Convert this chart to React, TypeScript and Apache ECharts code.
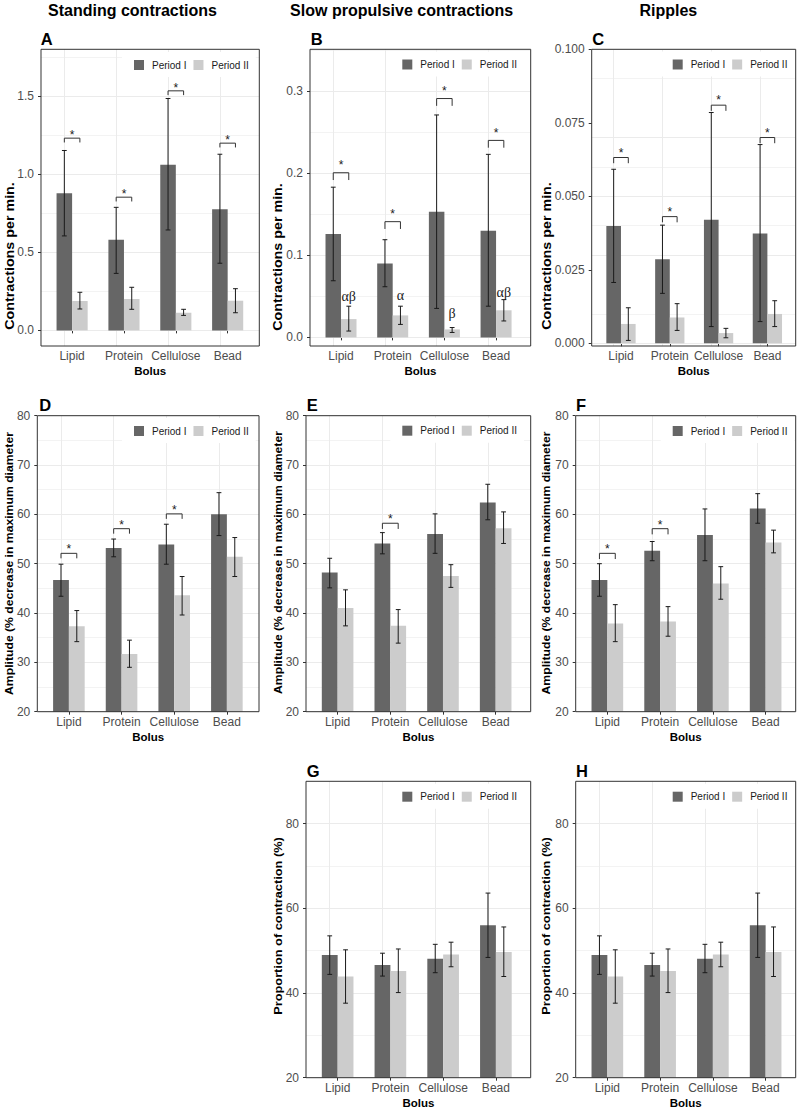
import React, { useEffect, useRef } from 'react';
import * as echarts from 'echarts';

const FONT = 'Liberation Sans, Arial, sans-serif';
const categories = ['Lipid', 'Protein', 'Cellulose', 'Bead'];
const periodNames = ['Period I', 'Period II'];
const columnTitles = ['Standing contractions', 'Slow propulsive contractions', 'Ripples'];

// A - standing contractions, frequency
const aPeriod1 = [0.878, 0.58, 1.06, 0.776];
const aPeriod1Low = [0.605, 0.365, 0.643, 0.43];
const aPeriod1High = [1.152, 0.788, 1.485, 1.128];
const aPeriod2 = [0.188, 0.201, 0.113, 0.19];
const aPeriod2Low = [0.137, 0.135, 0.096, 0.113];
const aPeriod2High = [0.244, 0.276, 0.135, 0.267];
const aSignif = [1.231, 0.853, 1.534, 1.199];
const aTicks = [0, 0.5, 1, 1.5];
const aTickLabels = ['0.0', '0.5', '1.0', '1.5'];
const aMinor = [0.25, 0.75, 1.25, 1.75];

// B - slow propulsive contractions, frequency
const bPeriod1 = [0.126, 0.09, 0.153, 0.13];
const bPeriod1Low = [0.069, 0.0617, 0.0353, 0.038];
const bPeriod1High = [0.183, 0.119, 0.271, 0.223];
const bPeriod2 = [0.0223, 0.0268, 0.0097, 0.033];
const bPeriod2Low = [0.0077, 0.0158, 0.006, 0.02];
const bPeriod2High = [0.038, 0.038, 0.012, 0.046];
const bSignif = [0.2006, 0.141, 0.291, 0.24];
const bLetters = ['αβ', 'α', 'β', 'αβ'];
const bLetterY = [0.0495, 0.051, 0.0288, 0.0548];
const bTicks = [0, 0.1, 0.2, 0.3];
const bTickLabels = ['0.0', '0.1', '0.2', '0.3'];
const bMinor = [0.05, 0.15, 0.25, 0.35];

// C - ripples, frequency
const cPeriod1 = [0.0399, 0.0286, 0.042, 0.0374];
const cPeriod1Low = [0.0207, 0.017, 0.0057, 0.0074];
const cPeriod1High = [0.0592, 0.0402, 0.0785, 0.0676];
const cPeriod2 = [0.0066, 0.0088, 0.0035, 0.01];
const cPeriod2Low = [0.001, 0.0044, 0.0019, 0.0057];
const cPeriod2High = [0.0121, 0.0135, 0.0051, 0.0145];
const cSignif = [0.0632, 0.0431, 0.081, 0.07];
const cTicks = [0, 0.025, 0.05, 0.075, 0.1];
const cTickLabels = ['0.000', '0.025', '0.050', '0.075', '0.100'];
const cMinor = [0.0125, 0.0375, 0.0625, 0.0875];

// D - standing contractions, amplitude
const dPeriod1 = [46.7, 53.2, 53.9, 60.0];
const dPeriod1Low = [43.4, 51.4, 49.9, 55.7];
const dPeriod1High = [49.9, 55.0, 58.0, 64.4];
const dPeriod2 = [37.3, 31.7, 43.6, 51.4];
const dPeriod2Low = [34.2, 29.0, 39.6, 47.4];
const dPeriod2High = [40.5, 34.5, 47.4, 55.3];
const dSignif = [52.1, 57.1, 60.1, null];

// E - slow propulsive contractions, amplitude
const ePeriod1 = [48.2, 54.1, 56.0, 62.4];
const ePeriod1Low = [45.1, 52.0, 52.1, 58.9];
const ePeriod1High = [51.1, 56.3, 60.1, 66.1];
const ePeriod2 = [41.0, 37.4, 47.5, 57.2];
const ePeriod2Low = [37.4, 33.9, 45.2, 54.1];
const ePeriod2High = [44.7, 40.7, 49.8, 60.5];
const eSignif = [null, 58.2, null, null];

// F - ripples, amplitude
const fPeriod1 = [46.7, 52.6, 55.8, 61.2];
const fPeriod1Low = [43.4, 50.6, 50.6, 58.2];
const fPeriod1High = [50.0, 54.5, 61.1, 64.2];
const fPeriod2 = [37.9, 38.3, 46.0, 54.3];
const fPeriod2Low = [34.2, 35.3, 42.8, 52.2];
const fPeriod2High = [41.7, 41.3, 49.4, 56.8];
const fSignif = [52.1, 57.1, null, null];

const ampTicks = [20, 30, 40, 50, 60, 70, 80];
const ampTickLabels = ['20', '30', '40', '50', '60', '70', '80'];
const ampMinor = [25, 35, 45, 55, 65, 75];

// G - slow propulsive contractions, proportion
const gPeriod1 = [49.0, 46.6, 48.1, 56.0];
const gPeriod1Low = [44.4, 44.0, 44.8, 48.4];
const gPeriod1High = [53.5, 49.4, 51.5, 63.6];
const gPeriod2 = [43.9, 45.2, 49.1, 49.7];
const gPeriod2Low = [37.6, 40.1, 46.2, 43.9];
const gPeriod2High = [50.2, 50.4, 52.0, 55.6];

// H - ripples, proportion
const hPeriod1 = [49.0, 46.6, 48.1, 56.0];
const hPeriod1Low = [44.4, 44.0, 44.8, 48.4];
const hPeriod1High = [53.5, 49.4, 51.5, 63.6];
const hPeriod2 = [43.9, 45.2, 49.1, 49.7];
const hPeriod2Low = [37.6, 40.1, 46.2, 43.9];
const hPeriod2High = [50.2, 50.4, 52.0, 55.6];

const propTicks = [20, 40, 60, 80];
const propTickLabels = ['20', '40', '60', '80'];
const propMinor = [30, 50, 70, 90];

const freqTitle = 'Contractions per min.';
const ampTitle = 'Amplitude (% decrease in maximum diameter';
const propTitle = 'Proportion of contraction (%)';

type Panel = {
  key: string;
  p1: number[]; p1Lo: number[]; p1Hi: number[];
  p2: number[]; p2Lo: number[]; p2Hi: number[];
  signif: (number | null)[];
  ticks: number[]; tickLabels: string[]; minor: number[];
  yTitle: string;
  letters?: string[]; letterY?: number[];
  // layout
  box: number[]; xMax: number; yMin: number; yMax: number;
  legendAt: number[]; letterAt: number[]; yTitleAt: number[]; yTitleSize: number;
  bracketTick: number; starOffset: number;
};

const panels: Panel[] = [
  { key: 'A', p1: aPeriod1, p1Lo: aPeriod1Low, p1Hi: aPeriod1High, p2: aPeriod2, p2Lo: aPeriod2Low, p2Hi: aPeriod2High,
    signif: aSignif, ticks: aTicks, tickLabels: aTickLabels, minor: aMinor, yTitle: freqTitle,
    box: [41, 49.3, 259.3, 346], xMax: 4.61, yMin: -0.1, yMax: 1.8,
    legendAt: [134, 65], letterAt: [40.7, 39], yTitleAt: [9.5, 256], yTitleSize: 14.3, bracketTick: 4.3, starOffset: 3 },
  { key: 'B', p1: bPeriod1, p1Lo: bPeriod1Low, p1Hi: bPeriod1High, p2: bPeriod2, p2Lo: bPeriod2Low, p2Hi: bPeriod2High,
    signif: bSignif, ticks: bTicks, tickLabels: bTickLabels, minor: bMinor, yTitle: freqTitle,
    letters: bLetters, letterY: bLetterY,
    box: [310, 49.3, 530.7, 346], xMax: 4.67, yMin: -0.0105, yMax: 0.351,
    legendAt: [402.3, 64.5], letterAt: [310.7, 39], yTitleAt: [278, 257], yTitleSize: 14.3, bracketTick: 7.3, starOffset: 7.5 },
  { key: 'C', p1: cPeriod1, p1Lo: cPeriod1Low, p1Hi: cPeriod1High, p2: cPeriod2, p2Lo: cPeriod2Low, p2Hi: cPeriod2High,
    signif: cSignif, ticks: cTicks, tickLabels: cTickLabels, minor: cMinor, yTitle: freqTitle,
    box: [591.7, 49.3, 795.7, 346], xMax: 4.58, yMin: -0.0009, yMax: 0.1,
    legendAt: [672.7, 64.5], letterAt: [592.3, 39], yTitleAt: [546.7, 256], yTitleSize: 14.3, bracketTick: 5.7, starOffset: 4.9 },
  { key: 'D', p1: dPeriod1, p1Lo: dPeriod1Low, p1Hi: dPeriod1High, p2: dPeriod2, p2Lo: dPeriod2Low, p2Hi: dPeriod2High,
    signif: dSignif, ticks: ampTicks, tickLabels: ampTickLabels, minor: ampMinor, yTitle: ampTitle,
    box: [37.3, 415.7, 259, 711.7], xMax: 4.61, yMin: 20, yMax: 80,
    legendAt: [134, 431], letterAt: [39.3, 405], yTitleAt: [9, 563.5], yTitleSize: 12.2, bracketTick: 5, starOffset: 3.9 },
  { key: 'E', p1: ePeriod1, p1Lo: ePeriod1Low, p1Hi: ePeriod1High, p2: ePeriod2, p2Lo: ePeriod2Low, p2Hi: ePeriod2High,
    signif: eSignif, ticks: ampTicks, tickLabels: ampTickLabels, minor: ampMinor, yTitle: ampTitle,
    box: [306, 415.7, 530.7, 711.7], xMax: 4.665, yMin: 20, yMax: 80,
    legendAt: [402.3, 430.7], letterAt: [306.7, 405], yTitleAt: [278.5, 562.5], yTitleSize: 12.2, bracketTick: 5.7, starOffset: 3.9 },
  { key: 'F', p1: fPeriod1, p1Lo: fPeriod1Low, p1Hi: fPeriod1High, p2: fPeriod2, p2Lo: fPeriod2Low, p2Hi: fPeriod2High,
    signif: fSignif, ticks: ampTicks, tickLabels: ampTickLabels, minor: ampMinor, yTitle: ampTitle,
    box: [575.7, 415.7, 795.7, 711.7], xMax: 4.57, yMin: 20, yMax: 80,
    legendAt: [672.7, 431], letterAt: [576, 405], yTitleAt: [546.7, 563], yTitleSize: 12.2, bracketTick: 5.7, starOffset: 3.9 },
  { key: 'G', p1: gPeriod1, p1Lo: gPeriod1Low, p1Hi: gPeriod1High, p2: gPeriod2, p2Lo: gPeriod2Low, p2Hi: gPeriod2High,
    signif: [null, null, null, null], ticks: propTicks, tickLabels: propTickLabels, minor: propMinor, yTitle: propTitle,
    box: [306, 781.3, 530.7, 1077.7], xMax: 4.66, yMin: 20, yMax: 90,
    legendAt: [402.3, 796.7], letterAt: [306.7, 770.5], yTitleAt: [278.3, 926], yTitleSize: 12.8, bracketTick: 5, starOffset: 4 },
  { key: 'H', p1: hPeriod1, p1Lo: hPeriod1Low, p1Hi: hPeriod1High, p2: hPeriod2, p2Lo: hPeriod2Low, p2Hi: hPeriod2High,
    signif: [null, null, null, null], ticks: propTicks, tickLabels: propTickLabels, minor: propMinor, yTitle: propTitle,
    box: [575.7, 781.3, 795.7, 1077.7], xMax: 4.57, yMin: 20, yMax: 90,
    legendAt: [672.7, 796.7], letterAt: [576, 770.5], yTitleAt: [546.7, 926], yTitleSize: 12.8, bracketTick: 5, starOffset: 4 },
];

const titleAt = [[132.5, 10], [401.7, 10], [668.3, 10]];

const DARK = '#666666';
const LIGHT = '#cccccc';
const GRID_LINE = '#ebebeb';
const HALF = 0.15;

function buildOption() {
  const option: any = {
    animation: false,
    backgroundColor: '#ffffff',
    textStyle: { fontFamily: FONT },
    grid: [], xAxis: [], yAxis: [], series: [], legend: [], graphic: [],
  };

  panels.forEach((p, i) => {
    const [l, t, r, b] = p.box;
    option.grid.push({ left: l, top: t, width: r - l, height: b - t, show: true, backgroundColor: '#ffffff', borderWidth: 0 });

    option.xAxis.push({
      type: 'value', gridIndex: i, min: 0.4, max: p.xMax,
      axisLine: { show: false }, splitLine: { show: false },
      axisTick: { show: true, length: 3, lineStyle: { color: '#333333', width: 1 }, customValues: [1, 2, 3, 4] },
      axisLabel: {
        customValues: [1, 2, 3, 4],
        formatter: (v: number) => categories[Math.round(v) - 1] ?? '',
        color: '#4d4d4d', fontSize: 12, fontFamily: FONT, margin: 4,
      },
      name: 'Bolus', nameLocation: 'middle', nameGap: 19,
      nameTextStyle: { fontWeight: 'bold', fontSize: 11.5, color: '#000000', fontFamily: FONT },
    });

    option.yAxis.push({
      type: 'value', gridIndex: i, min: p.yMin, max: p.yMax,
      axisLine: { show: false }, splitLine: { show: false },
      axisTick: { show: true, length: 3, lineStyle: { color: '#333333', width: 1 }, customValues: p.ticks },
      axisLabel: {
        customValues: p.ticks,
        formatter: (v: number) => {
          const k = p.ticks.findIndex((u) => Math.abs(u - v) < 1e-9);
          return k >= 0 ? p.tickLabels[k] : '';
        },
        color: '#4d4d4d', fontSize: 12, fontFamily: FONT, margin: 7,
      },
    });

    const gridLines = [
      ...p.ticks.map((v) => ({ yAxis: v, lineStyle: { color: GRID_LINE, width: 1, type: 'solid' } })),
      ...p.minor.filter((v) => v < p.yMax).map((v) => ({ yAxis: v, lineStyle: { color: GRID_LINE, width: 0.6, type: 'solid' } })),
      ...[1, 2, 3, 4].map((v) => ({ xAxis: v, lineStyle: { color: GRID_LINE, width: 1, type: 'solid' } })),
    ];

    option.series.push({
      type: 'bar', name: periodNames[0], xAxisIndex: i, yAxisIndex: i,
      data: p.p1.map((v, k) => [k + 1, v]),
      barWidth: '30%', barGap: '0%',
      itemStyle: { color: DARK }, emphasis: { disabled: true }, silent: true,
      markLine: { silent: true, symbol: 'none', z: 1, label: { show: false }, emphasis: { disabled: true }, data: gridLines },
    });
    option.series.push({
      type: 'bar', name: periodNames[1], xAxisIndex: i, yAxisIndex: i,
      data: p.p2.map((v, k) => [k + 1, v]),
      barWidth: '30%', barGap: '0%',
      itemStyle: { color: LIGHT }, emphasis: { disabled: true }, silent: true,
    });

    option.series.push({
      type: 'custom', name: `error bars ${p.key}`, xAxisIndex: i, yAxisIndex: i, z: 3, silent: true,
      encode: { x: 0, y: [1, 2] },
      data: [
        ...p.p1.map((_, k) => [k + 1, p.p1Lo[k], p.p1Hi[k], -1]),
        ...p.p2.map((_, k) => [k + 1, p.p2Lo[k], p.p2Hi[k], 1]),
      ],
      renderItem: (params: any, api: any) => {
        const x = api.value(0) + api.value(3) * HALF;
        const lo = api.coord([x, api.value(1)]);
        const hi = api.coord([x, api.value(2)]);
        const w = 2.4;
        const st = { stroke: '#1a1a1a', lineWidth: 1 };
        return {
          type: 'group',
          children: [
            { type: 'line', shape: { x1: lo[0], y1: lo[1], x2: hi[0], y2: hi[1] }, style: st },
            { type: 'line', shape: { x1: hi[0] - w, y1: hi[1], x2: hi[0] + w, y2: hi[1] }, style: st },
            { type: 'line', shape: { x1: lo[0] - w, y1: lo[1], x2: lo[0] + w, y2: lo[1] }, style: st },
          ],
        };
      },
    });

    const sigData = p.signif.map((v, k) => (v == null ? null : [k + 1, v])).filter((d) => d != null);
    if (sigData.length) {
      option.series.push({
        type: 'custom', name: `significance ${p.key}`, xAxisIndex: i, yAxisIndex: i, z: 3, silent: true,
        encode: { x: 0, y: 1 },
        data: sigData,
        renderItem: (params: any, api: any) => {
          const x = api.value(0);
          const L = api.coord([x - HALF, api.value(1)]);
          const R = api.coord([x + HALF, api.value(1)]);
          const tk = p.bracketTick;
          return {
            type: 'group',
            children: [
              { type: 'polyline', shape: { points: [[L[0], L[1] + tk], [L[0], L[1]], [R[0], R[1]], [R[0], R[1] + tk]] },
                style: { stroke: '#333333', lineWidth: 1, fill: null } },
              { type: 'text', style: { text: '*', x: (L[0] + R[0]) / 2, y: L[1] - p.starOffset, align: 'center', verticalAlign: 'middle',
                font: `12px ${FONT}`, fill: '#1a1a1a' } },
            ],
          };
        },
      });
    }

    if (p.letters && p.letterY) {
      option.series.push({
        type: 'custom', name: `letters ${p.key}`, xAxisIndex: i, yAxisIndex: i, z: 3, silent: true,
        encode: { x: 0, y: 1 },
        data: p.letters.map((s, k) => [k + 1 + HALF, p.letterY![k], s]),
        renderItem: (params: any, api: any) => {
          const pt = api.coord([api.value(0), api.value(1)]);
          const s = p.letters![params.dataIndex];
          return { type: 'text', style: { text: s, x: pt[0], y: pt[1], align: 'center', verticalAlign: 'middle',
            font: `14px Liberation Serif, serif`, fill: '#1a1a1a' } };
        },
      });
    }

    option.legend.push({
      left: p.legendAt[0] - 12, top: p.legendAt[1] - 13,
      orient: 'horizontal', itemWidth: 10, itemHeight: 10, itemGap: 7, icon: 'rect',
      padding: [8, 7, 7, 12], backgroundColor: '#ffffff', selectedMode: false,
      data: periodNames,
      textStyle: { fontSize: 10, color: '#1a1a1a', fontFamily: FONT, padding: [0, 0, 0, 3] },
    });

    option.graphic.push({
      type: 'rect', z: 100, silent: true,
      shape: { x: l, y: t, width: r - l, height: b - t },
      style: { fill: null, stroke: '#333333', lineWidth: 1 },
    });
    option.graphic.push({
      type: 'text', z: 100, silent: true, x: p.letterAt[0], y: p.letterAt[1],
      style: { text: p.key, font: `bold 16.5px ${FONT}`, fill: '#000000', align: 'left', verticalAlign: 'middle' },
    });
    option.graphic.push({
      type: 'text', z: 100, silent: true, x: p.yTitleAt[0], y: p.yTitleAt[1], rotation: Math.PI / 2, scaleY: 0.88,
      style: { text: p.yTitle, font: `bold ${p.yTitleSize}px ${FONT}`, fill: '#000000', align: 'center', verticalAlign: 'middle' },
    });
  });

  columnTitles.forEach((s, k) => {
    option.graphic.push({
      type: 'text', z: 100, silent: true, x: titleAt[k][0], y: titleAt[k][1],
      style: { text: s, font: `bold 16px ${FONT}`, fill: '#000000', align: 'center', verticalAlign: 'middle' },
    });
  });

  return option;
}

export default function App() {
  const ref = useRef<HTMLDivElement>(null);
  useEffect(() => {
    document.body.style.margin = '0';
    if (!ref.current) return;
    const chart = echarts.init(ref.current, null, { renderer: 'svg' });
    chart.setOption(buildOption());
    return () => chart.dispose();
  }, []);
  return <div ref={ref} style={{ position: 'absolute', left: 0, top: 0, width: 800, height: 1112, background: '#fff' }} />;
}
